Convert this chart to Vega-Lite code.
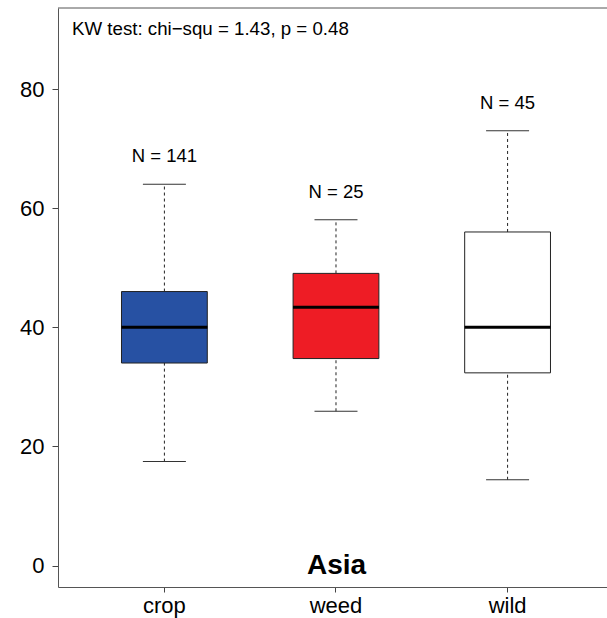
{
  "$schema": "https://vega.github.io/schema/vega-lite/v6.json",
  "width": 549,
  "height": 579,
  "autosize": {"type": "none"},
  "padding": {"left": 58, "top": 8, "right": 0, "bottom": 31},
  "background": "white",
  "view": {"stroke": "transparent", "strokeWidth": 0},
  "config": {
    "font": "Liberation Sans",
    "view": {"stroke": "transparent", "strokeWidth": 0},
    "axis": {"grid": false, "domain": true, "domainColor": "#555", "domainWidth": 1, "tickColor": "#444", "labelColor": "black", "labelFont": "Liberation Sans"}
  },
  "title": {
    "text": "KW test: chi−squ = 1.43, p = 0.48",
    "anchor": "start",
    "frame": "group",
    "orient": "top",
    "offset": -46,
    "baseline": "alphabetic",
    "dx": 14,
    "fontSize": 18.7,
    "fontWeight": "normal",
    "font": "Liberation Sans",
    "color": "black"
  },
  "data": {
    "values": [
      {"group": "crop", "lower": 17.45, "q1": 34.0, "median": 40.0, "q3": 46.0, "upper": 64.0, "nlabel": "N = 141"},
      {"group": "weed", "lower": 25.9, "q1": 34.75, "median": 43.35, "q3": 49.05, "upper": 58.05, "nlabel": "N = 25"},
      {"group": "wild", "lower": 14.4, "q1": 32.35, "median": 40.0, "q3": 56.0, "upper": 73.0, "nlabel": "N = 45"}
    ]
  },
  "encoding": {
    "x": {
      "field": "group",
      "type": "nominal",
      "scale": {"type": "band", "paddingInner": 0, "paddingOuter": 0.0997, "align": 0.602},
      "axis": {
        "labelAngle": 0,
        "labelFontSize": 22,
        "labelPadding": 3,
        "tickSize": 5,
        "title": "Asia",
        "titleFontSize": 28,
        "titleFontWeight": "bold",
        "titleFont": "Liberation Sans",
        "titleColor": "black",
        "titleBaseline": "alphabetic",
        "titleY": -14,
        "titleX": 278,
        "titleAnchor": "middle"
      }
    }
  },
  "layer": [
    {
      "mark": {"type": "rule", "strokeDash": [3, 3], "strokeWidth": 1, "color": "#222"},
      "encoding": {
        "y": {"field": "lower", "type": "quantitative", "scale": {"domain": [-3.6, 93.6], "nice": false, "zero": false},
          "axis": {"values": [0, 20, 40, 60, 80], "title": null, "labelFontSize": 22, "labelPadding": 8, "tickSize": 6}},
        "y2": {"field": "q1"}
      }
    },
    {
      "mark": {"type": "rule", "strokeDash": [3, 3], "strokeWidth": 1, "color": "#222"},
      "encoding": {
        "y": {"field": "q3", "type": "quantitative"},
        "y2": {"field": "upper"}
      }
    },
    {
      "mark": {"type": "tick", "orient": "horizontal", "size": 43, "thickness": 1, "color": "#333", "opacity": 1},
      "encoding": {"y": {"field": "lower", "type": "quantitative"}}
    },
    {
      "mark": {"type": "tick", "orient": "horizontal", "size": 43, "thickness": 1, "color": "#333", "opacity": 1},
      "encoding": {"y": {"field": "upper", "type": "quantitative"}}
    },
    {
      "mark": {"type": "bar", "width": {"band": 0.5}, "stroke": "#222", "strokeWidth": 1, "opacity": 1},
      "encoding": {
        "y": {"field": "q1", "type": "quantitative"},
        "y2": {"field": "q3"},
        "fill": {"field": "group", "type": "nominal", "scale": {"domain": ["crop", "weed", "wild"], "range": ["#2751A3", "#EE1C25", "#FFFFFF"]}, "legend": null}
      }
    },
    {
      "mark": {"type": "tick", "orient": "horizontal", "size": 86, "thickness": 3, "color": "black", "opacity": 1},
      "encoding": {"y": {"field": "median", "type": "quantitative"}}
    },
    {
      "mark": {"type": "text", "fontSize": 18.5, "baseline": "alphabetic", "align": "center", "dy": -22, "color": "black", "font": "Liberation Sans"},
      "encoding": {
        "y": {"field": "upper", "type": "quantitative"},
        "text": {"field": "nlabel", "type": "nominal"}
      }
    },
    {
      "data": {"values": [{"frame": "top"}]},
      "mark": {"type": "rule", "color": "#555", "strokeWidth": 1},
      "encoding": {
        "x": null,
        "y": {"datum": 93.6, "type": "quantitative"}
      }
    }
  ]
}
